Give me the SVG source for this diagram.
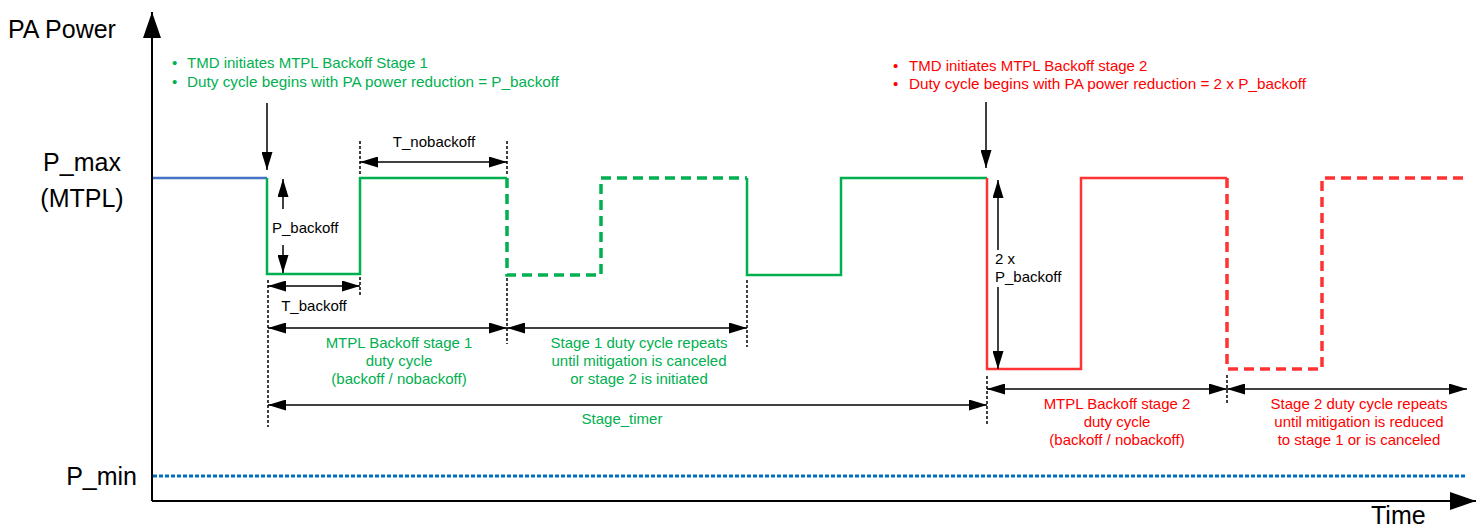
<svg xmlns="http://www.w3.org/2000/svg" width="1480" height="529" viewBox="0 0 1480 529">
<style>
text{font-family:"Liberation Sans",Arial,sans-serif;font-size:15px}
.big{font-size:25px;fill:#000}
.g{fill:#00B050}
.r{fill:#FF0000}
.k{fill:#000}
.mid{text-anchor:middle}
.wg{fill:none;stroke:#00B050;stroke-width:2.5}
.wr{fill:none;stroke:#FF3333;stroke-width:2.5}
.dash{stroke-dasharray:10 6;stroke-width:3.5}
.dim{fill:none;stroke:#000;stroke-width:1.5}
.ext{fill:none;stroke:#000;stroke-width:1.5;stroke-dasharray:3 2}
.axis{fill:none;stroke:#000;stroke-width:2}
</style>
<defs>
<marker id="ah" viewBox="0 0 18 11" refX="18" refY="5.5" markerWidth="18" markerHeight="11" markerUnits="userSpaceOnUse" orient="auto-start-reverse"><path d="M0,0 L18,5.5 L0,11 z" fill="#000"/></marker>
<marker id="axh" viewBox="0 0 26 18" refX="26" refY="9" markerWidth="26" markerHeight="18" markerUnits="userSpaceOnUse" orient="auto"><path d="M0,0 L26,9 L0,18 z" fill="#000"/></marker>
</defs>
<rect width="1480" height="529" fill="#fff"/>

<g id="axes">
<path class="axis" d="M152,501 V12" marker-end="url(#axh)"/>
<path class="axis" d="M152,501 H1476" marker-end="url(#axh)"/>
<text class="big" x="8" y="38">PA Power</text>
<text class="big mid" x="82" y="171">P_max</text>
<text class="big mid" x="82" y="207">(MTPL)</text>
<text class="big" x="137" y="485" text-anchor="end">P_min</text>
<text class="big" x="1371" y="524">Time</text>
</g>

<g id="pmin-line">
<path d="M153,476 H1467" fill="none" stroke="#0070C0" stroke-width="3" stroke-dasharray="4 2"/>
</g>

<g id="waveform">
<path d="M153,178 H267" fill="none" stroke="#4472C4" stroke-width="2.5"/>
<path class="wg" d="M267,178 V274 H360 V178 H507"/>
<path class="wg dash" d="M507,178 V275 H601 V178 H747"/>
<path class="wg" d="M747,178 V275 H841 V178 H987"/>
<path class="wr" d="M987,178 V369 H1081 V178 H1227"/>
<path class="wr dash" d="M1227,178 V369 H1322 V178 H1467"/>
</g>

<g id="stage1-note">
<text class="g" x="172" y="68">•</text>
<text class="g" x="187" y="68">TMD initiates MTPL Backoff Stage 1</text>
<text class="g" x="172" y="87">•</text>
<text class="g" x="187" y="87" textLength="372" lengthAdjust="spacingAndGlyphs">Duty cycle begins with PA power reduction = P_backoff</text>
</g>

<g id="stage2-note">
<text class="r" x="893" y="71">•</text>
<text class="r" x="909" y="71">TMD initiates MTPL Backoff stage 2</text>
<text class="r" x="893" y="89">•</text>
<text class="r" x="909" y="89" textLength="397" lengthAdjust="spacingAndGlyphs">Duty cycle begins with PA power reduction = 2 x P_backoff</text>
</g>

<g id="connectors">
<path class="dim" d="M267,103 V170" marker-end="url(#ah)"/>
<path class="dim" d="M986,102 V168" marker-end="url(#ah)"/>
<path class="ext" d="M360,141 V174"/>
<path class="ext" d="M507,141 V174"/>
<path class="dim" d="M360,162 H507" marker-start="url(#ah)" marker-end="url(#ah)"/>
<path class="dim" d="M283,209 V179" marker-end="url(#ah)"/>
<path class="dim" d="M283,245 V273" marker-end="url(#ah)"/>
<path class="ext" d="M268,280 V427"/>
<path class="ext" d="M360,277 V297"/>
<path class="dim" d="M268,286 H360" marker-start="url(#ah)" marker-end="url(#ah)"/>
<path class="ext" d="M507,278 V344"/>
<path class="ext" d="M747,280 V347"/>
<path class="dim" d="M268,328 H507" marker-start="url(#ah)" marker-end="url(#ah)"/>
<path class="dim" d="M507,328 H747" marker-start="url(#ah)" marker-end="url(#ah)"/>
<path class="dim" d="M268,405 H987" marker-start="url(#ah)" marker-end="url(#ah)"/>
<path class="dim" d="M998,250 V180" marker-end="url(#ah)"/>
<path class="dim" d="M998,287 V369" marker-end="url(#ah)"/>
<path class="ext" d="M987,376 V425"/>
<path class="ext" d="M1227,375 V404"/>
<path class="dim" d="M987,389 H1227" marker-start="url(#ah)" marker-end="url(#ah)"/>
<path class="dim" d="M1227,389 H1467" marker-start="url(#ah)" marker-end="url(#ah)"/>
</g>

<g id="labels">
<text class="k mid" x="434" y="147">T_nobackoff</text>
<text class="k" x="272" y="233">P_backoff</text>
<text class="k mid" x="314" y="311">T_backoff</text>
<text class="g mid" x="399" y="348">MTPL Backoff stage 1</text>
<text class="g mid" x="399" y="366">duty cycle</text>
<text class="g mid" x="399" y="384">(backoff / nobackoff)</text>
<text class="g mid" x="639" y="348">Stage 1 duty cycle repeats</text>
<text class="g mid" x="639" y="366">until mitigation is canceled</text>
<text class="g mid" x="639" y="384">or stage 2 is initiated</text>
<text class="g mid" x="622" y="424">Stage_timer</text>
<text class="k" x="995" y="264">2 x</text>
<text class="k" x="995" y="282">P_backoff</text>
<text class="r mid" x="1117" y="409">MTPL Backoff stage 2</text>
<text class="r mid" x="1117" y="427">duty cycle</text>
<text class="r mid" x="1117" y="445">(backoff / nobackoff)</text>
<text class="r mid" x="1359" y="409">Stage 2 duty cycle repeats</text>
<text class="r mid" x="1359" y="427">until mitigation is reduced</text>
<text class="r mid" x="1359" y="445">to stage 1 or is canceled</text>
</g>
</svg>
